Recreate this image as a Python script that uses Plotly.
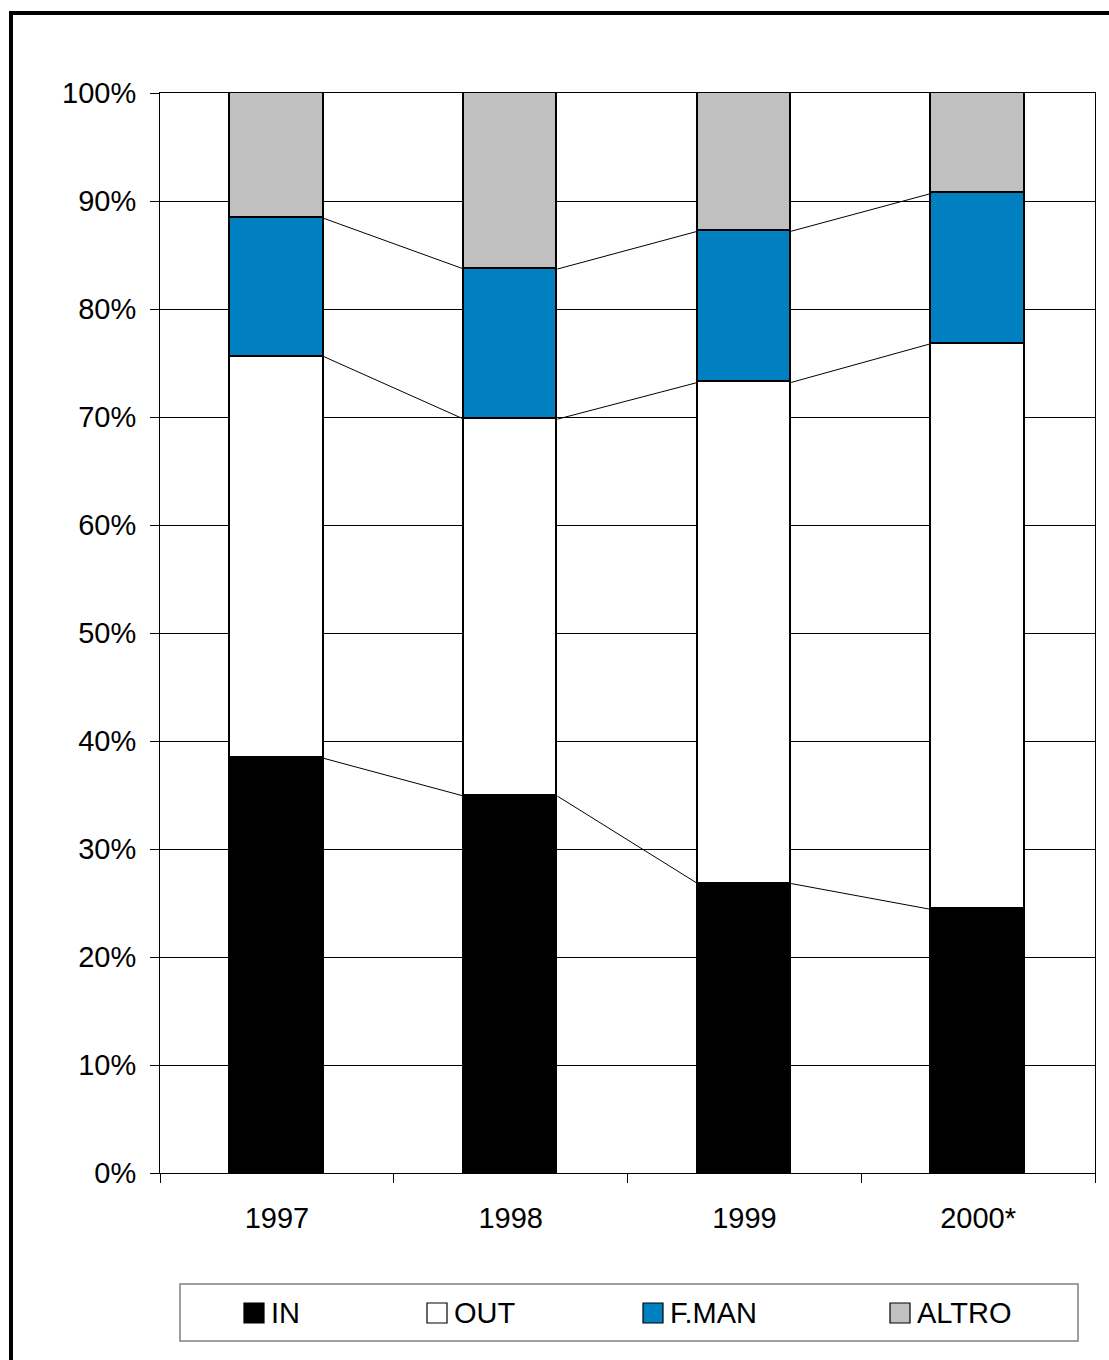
import plotly.graph_objects as go

# data (share of total, %)
years = ["1997", "1998", "1999", "2000*"]
series_names = ["IN", "OUT", "F.MAN", "ALTRO"]
in_vals = [38.4, 34.9, 26.8, 24.4]
out_vals = [37.2, 34.9, 46.4, 52.4]
fman_vals = [12.8, 13.9, 14.0, 13.9]
altro_vals = [11.6, 16.3, 12.8, 9.3]
y_ticks = [0, 10, 20, 30, 40, 50, 60, 70, 80, 90, 100]

colors = ["#000000", "#FFFFFF", "#0080C0", "#C0C0C0"]
FONT = "Liberation Sans, Arial, sans-serif"
FS = 29

W, H = 1109, 1360
L, R, T, B = 160, 14, 93, 187
PW, PH = W - L - R, H - T - B

def px(x):
    return (x - L) / PW

def py(y):
    return (H - B - y) / PH

xs = list(range(len(years)))
bar_w = 0.4
all_vals = [in_vals, out_vals, fman_vals, altro_vals]

fig = go.Figure()
for name, vals, col in zip(series_names, all_vals, colors):
    fig.add_trace(go.Bar(x=xs, y=vals, name=name, width=bar_w,
                         marker=dict(color=col, line=dict(color="#000000", width=1.8)),
                         showlegend=False))

# series lines between stacked segments
cum = [0] * len(years)
for vals in all_vals[:-1]:
    cum = [c + v for c, v in zip(cum, vals)]
    lx, ly = [], []
    for i in range(len(years) - 1):
        lx += [xs[i] + bar_w / 2, xs[i + 1] - bar_w / 2, None]
        ly += [cum[i], cum[i + 1], None]
    fig.add_trace(go.Scatter(x=lx, y=ly, mode="lines", line=dict(color="#000000", width=1),
                             showlegend=False, hoverinfo="skip"))

shapes = []
annotations = []
# outer frame
shapes.append(dict(type="rect", xref="paper", yref="paper", x0=px(11), x1=px(1130),
                   y0=py(1380), y1=py(13), line=dict(color="#000000", width=4)))
# legend box
shapes.append(dict(type="rect", xref="paper", yref="paper", x0=px(180), x1=px(1078),
                   y0=py(1341), y1=py(1284), line=dict(color="#808080", width=1.5),
                   fillcolor="#FFFFFF"))
leg_x = [244, 427, 643, 890]
for name, col, x0 in zip(series_names, colors, leg_x):
    shapes.append(dict(type="rect", xref="paper", yref="paper", x0=px(x0), x1=px(x0 + 20),
                       y0=py(1323), y1=py(1303), line=dict(color="#000000", width=1.2),
                       fillcolor=col))
    annotations.append(dict(xref="paper", yref="paper", x=px(x0 + 25), y=py(1313),
                            text=name, showarrow=False, xanchor="left", yanchor="middle",
                            font=dict(family=FONT, size=FS, color="#000000")))

fig.update_layout(
    width=W, height=H,
    margin=dict(l=L, r=R, t=T, b=B),
    paper_bgcolor="#FFFFFF", plot_bgcolor="#FFFFFF",
    barmode="stack", bargap=0,
    font=dict(family=FONT, size=FS, color="#000000"),
    shapes=shapes, annotations=annotations,
    showlegend=False,
)
fig.update_xaxes(range=[-0.5, len(years) - 0.5], tickvals=xs, ticktext=years,
                 ticks="", showgrid=False, zeroline=False,
                 showline=True, linecolor="#000000", linewidth=1, mirror=True,
                 ticklabelstandoff=19,
                 minor=dict(tickvals=[i - 0.5 for i in range(len(years) + 1)],
                            ticks="outside", ticklen=9, tickcolor="#000000", showgrid=False),
                 tickfont=dict(family=FONT, size=FS))
fig.update_yaxes(range=[0, 100], tickvals=y_ticks, ticktext=[f"{v}%" for v in y_ticks],
                 ticks="outside", ticklen=9, tickcolor="#000000",
                 showgrid=True, gridcolor="#000000", gridwidth=1, zeroline=False,
                 showline=True, linecolor="#000000", linewidth=1, mirror=True,
                 ticklabelstandoff=8,
                 tickfont=dict(family=FONT, size=FS))

# drop the page's default body margin so the figure sits at the top-left corner
fig.write_html("out.html", config={"displayModeBar": False},
               post_script="document.body.style.margin='0';")
